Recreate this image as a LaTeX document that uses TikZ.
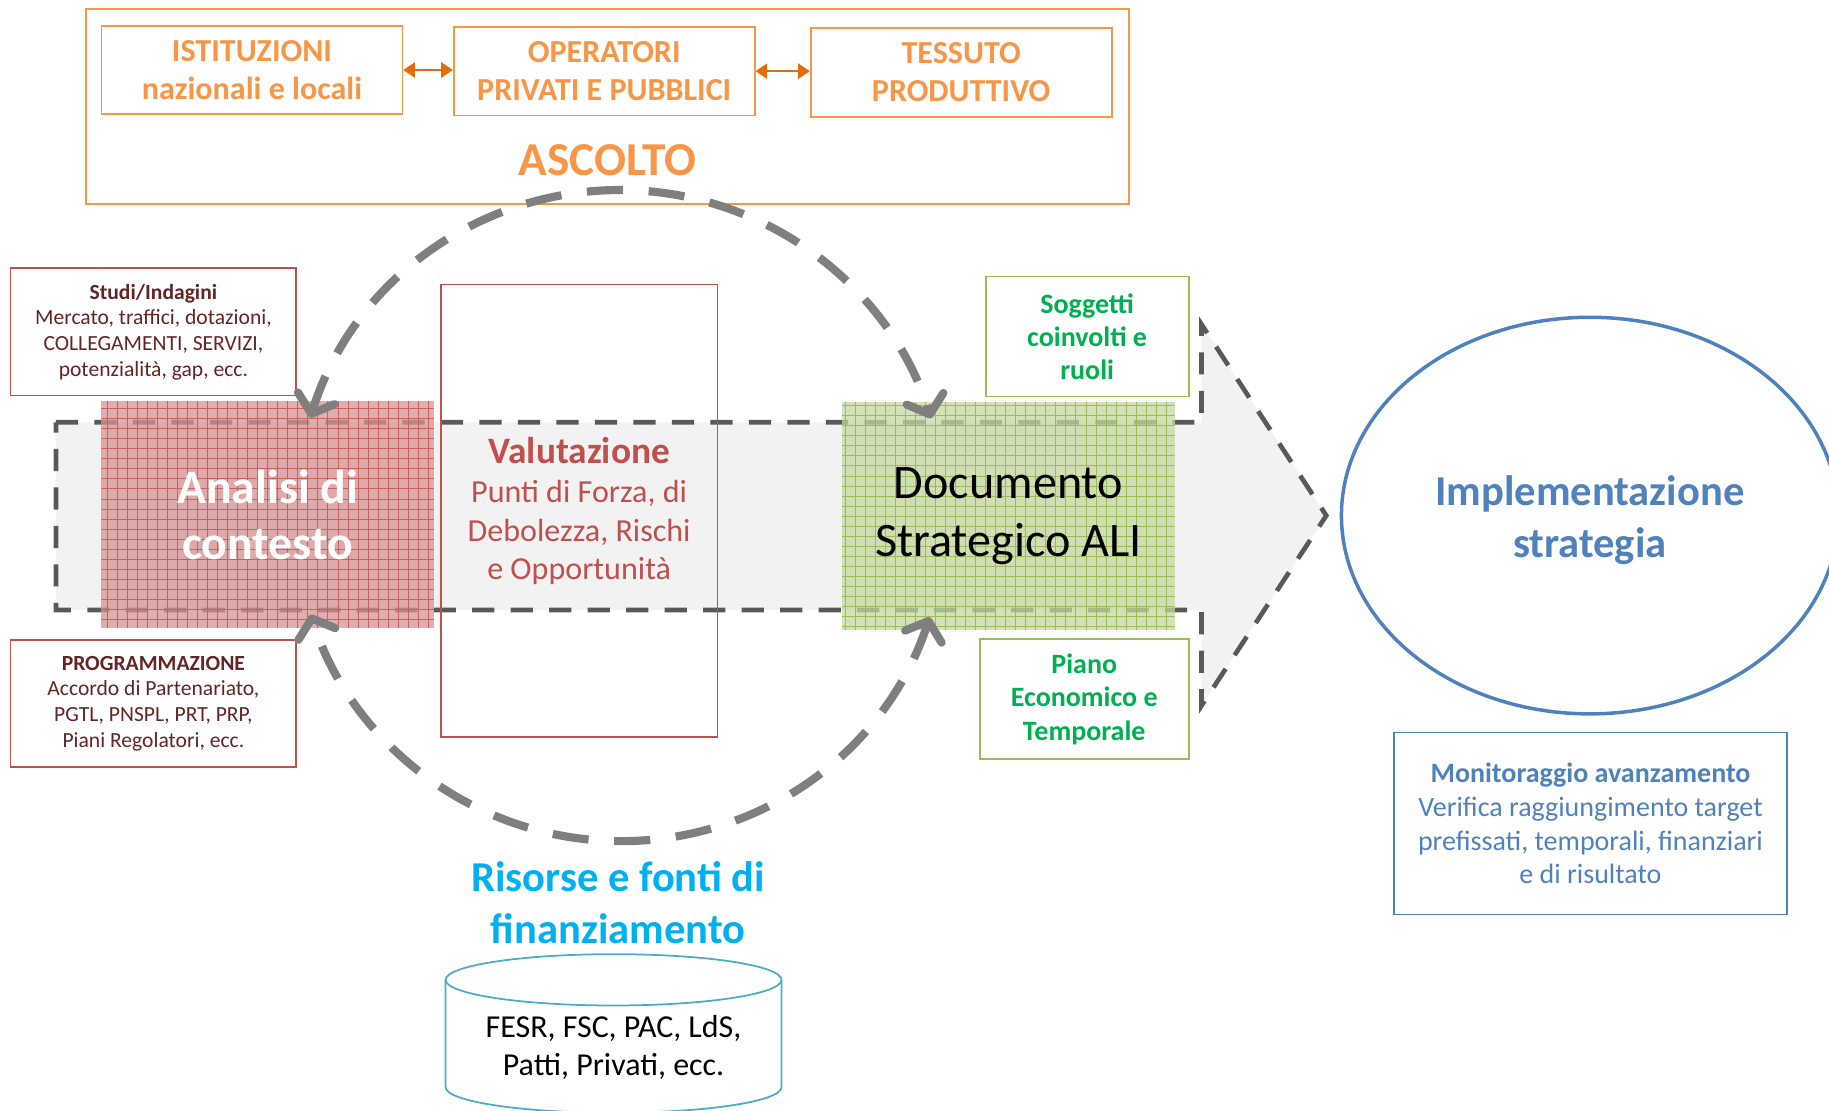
\documentclass[tikz,border=0pt]{standalone}
\usepackage{fontspec}
\setmainfont{Carlito}
\usepackage{xcolor}
\usetikzlibrary{arrows.meta, shapes.geometric}

\definecolor{ascorange}{HTML}{F79646}
\definecolor{arrorange}{HTML}{E46C0A}
\definecolor{redacc}{HTML}{C0504D}
\definecolor{darkred}{HTML}{632423}
\definecolor{greenacc}{HTML}{9BBB59}
\definecolor{greentxt}{HTML}{00B050}
\definecolor{blueacc}{HTML}{4F81BD}
\definecolor{cyantxt}{HTML}{00B0F0}
\definecolor{aquaacc}{HTML}{4BACC6}
\definecolor{cyclegray}{HTML}{7F7F7F}
\definecolor{arrgray}{HTML}{595959}
\definecolor{arrfill}{HTML}{F2F2F2}

\newcommand{\fsz}[2]{\fontsize{#1}{#2}\selectfont}

\begin{document}
\begin{tikzpicture}[x=1pt, y=1pt, yscale=-1,
    box/.style={draw, rectangle, line width=1.5pt, inner sep=0pt, align=center},
    ascbox/.style={box, draw=ascorange, text=ascorange, font=\fsz{27.5}{33}\bfseries,
        minimum width=258pt, minimum height=76pt},
    ascarrow/.style={{Triangle[length=10pt,width=13pt]}-{Triangle[length=10pt,width=13pt]},
        arrorange, line width=2pt},
    studibox/.style={box, draw=redacc, text=darkred, font=\fsz{18.5}{22},
        minimum width=245pt, minimum height=109pt},
    greenbox/.style={box, draw=greenacc, text=greentxt, font=\fsz{24}{28.5}\bfseries,
        minimum height=103pt},
    gridbox/.style={rectangle, inner sep=0pt, align=center, fill opacity=0.75, text opacity=1,
        minimum width=285pt, minimum height=195pt,
        path picture={\draw[#1, line width=0.5pt] (path picture bounding box.south west)
            grid[step=8.6pt] (path picture bounding box.north east);}},
    cyclearrow/.style={cyclegray, line width=7pt, dash pattern=on 31pt off 22pt,
        {Straight Barb[round,length=14pt,width=33pt]}-{Straight Barb[round,length=14pt,width=33pt]}}
]
    \useasboundingbox (0,0) rectangle (1568,952);

    % Ascolto
    \node[box, draw=ascorange, minimum width=894pt, minimum height=167pt] (ascolto) at (521,91.5) {};
    \node[text=ascorange, font=\fsz{40.5}{44}\bfseries] (ascoltolbl) at (521,137) {ASCOLTO};
    \node[ascbox] (istituzioni) at (216,60) {ISTITUZIONI\\nazionali e locali};
    \node[ascbox] (operatori) at (518,61) {OPERATORI\\PRIVATI E PUBBLICI};
    \node[ascbox] (tessuto) at (824,62) {TESSUTO\\PRODUTTIVO};
    \draw[ascarrow] (istituzioni.east) -- (operatori.west |- istituzioni.east);
    \draw[ascarrow] (operatori.east) -- (tessuto.west |- operatori.east);

    % Freccia principale
    \draw[fill=arrfill, draw=arrgray, line width=4pt, dash pattern=on 19pt off 14pt]
        (48,362) -- (1030,362) -- (1030,278) -- (1137,442) -- (1030,605)
        -- (1030,523) -- (48,523) -- cycle;

    % Fasi
    \node[gridbox=redacc!90, fill=redacc!62, text=white, font=\fsz{41}{48}\bfseries]
        (analisi) at (229.5,441) {Analisi di\\contesto};
    \node[gridbox=greenacc, fill=greenacc!58, text=black, font=\fsz{41.3}{49}]
        (documento) at (864.5,442.5) {Documento\\Strategico ALI};
    \node[box, draw=redacc, text=redacc, minimum width=237pt, minimum height=388pt, font=\fsz{27.5}{33}]
        (valutazione) at (496.5,438) {{\fsz{32}{36}\bfseries Valutazione}\\[1pt]Punti di Forza, di\\Debolezza, Rischi\\e Opportunità};

    % Riquadri laterali
    \node[studibox] (studi) at (131.5,284.5)
        {\textbf{Studi/Indagini}\\Mercato, traffici, dotazioni,\\COLLEGAMENTI, SERVIZI,\\potenzialità, gap, ecc.};
    \node[studibox] (programmazione) at (131.5,603)
        {\textbf{PROGRAMMAZIONE}\\Accordo di Partenariato,\\PGTL, PNSPL, PRT, PRP,\\Piani Regolatori, ecc.};
    \node[greenbox, minimum width=174pt] (soggetti) at (932,288.5) {Soggetti\\coinvolti e\\ruoli};
    \node[greenbox, minimum width=179pt] (piano) at (929.5,599.5) {Piano\\Economico e\\Temporale};

    % Implementazione
    \node[draw=blueacc, line width=3pt, ellipse, minimum width=426pt, minimum height=340pt, inner sep=0pt,
        label={[text=blueacc, font=\fsz{36.5}{44}\bfseries, align=center, yshift=-4pt]center:Implementazione\\strategia}]
        (implementazione) at (1363,442) {};
    \node[box, draw=blueacc, text=blueacc, font=\fsz{24}{29}, minimum width=337pt, minimum height=156pt]
        (monitoraggio) at (1363.5,706) {\textbf{Monitoraggio avanzamento}\\Verifica raggiungimento target\\prefissati, temporali, finanziari\\e di risultato};

    % Risorse
    \node[text=cyantxt, font=\fsz{36.5}{45}\bfseries, align=center] (risorse) at (530,774)
        {Risorse e fonti di\\finanziamento};
    \draw[aquaacc, line width=1.5pt, fill=white] (382,840) -- (382,932)
        arc[start angle=180, end angle=0, x radius=144, y radius=22] -- (670,840);
    \draw[aquaacc, line width=1.5pt] (526,840) ellipse[x radius=144, y radius=22];
    \node[font=\fsz{27.4}{32}, align=center] (fonti) at (526,898) {FESR, FSC, PAC, LdS,\\Patti, Privati, ecc.};

    % Ciclo
    \coordinate (ciclo) at (532,442);
    \draw[cyclearrow] ([shift={(197.5:279)}]ciclo) arc[start angle=197.5, end angle=342.6, radius=279];
    \draw[cyclearrow] ([shift={(18.2:279)}]ciclo) arc[start angle=18.2, end angle=162.3, radius=279];
\end{tikzpicture}
\end{document}
